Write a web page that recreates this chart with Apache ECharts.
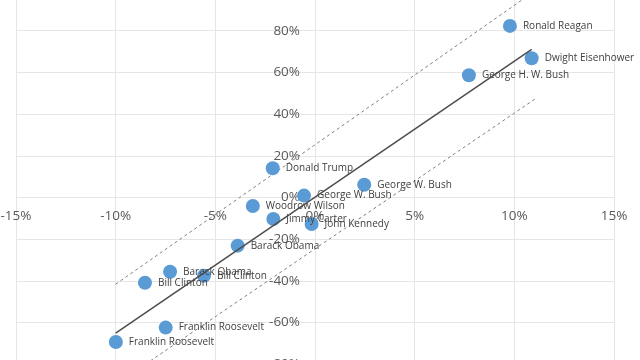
<!DOCTYPE html>
<html><head><meta charset="utf-8">
<script src="https://cdn.jsdelivr.net/npm/echarts@6/dist/echarts.min.js"></script>
<style>html,body{margin:0;padding:0;background:#fff}#c{width:640px;height:360px}</style>
</head><body><div id="c"></div>
<script>
const names = ["Ronald Reagan","Dwight Eisenhower","George H. W. Bush","Donald Trump","George W. Bush","George W. Bush","Woodrow Wilson","Jimmy Carter","John Kennedy","Barack Obama","Barack Obama","Bill Clinton","Bill Clinton","Franklin Roosevelt","Franklin Roosevelt"];
const xVals = [0.0978, 0.1087, 0.0772, -0.0212, 0.0247, -0.0055, -0.0312, -0.0209, -0.0017, -0.0388, -0.0727, -0.0557, -0.0853, -0.0749, -0.0999];
const yVals = [0.823, 0.668, 0.586, 0.140, 0.061, 0.009, -0.041, -0.103, -0.127, -0.231, -0.356, -0.375, -0.409, -0.624, -0.693];
const trendX = [-0.10, 0.1087];
const trendY = [-0.651, 0.711];
const upperX = [-0.10, 0.1087];
const upperY = [-0.416, 0.98];
const lowerX = [-0.10, 0.1103];
const lowerY = [-0.897, 0.472];

const pct = v => Math.round(v * 100) + '%';
const pts = xVals.map((x, i) => ({ value: [x, yVals[i]], name: names[i] }));
const pair = (xs, ys) => xs.map((x, i) => [x, ys[i]]);

// grid geometry: x from 16 to 614 px, y from -11 to 406 px; axes cross at value 0
const G = { left: 16, right: 26, top: -11, bottom: -46 };
const W = 640 - G.left - G.right, H = 360 - G.top - G.bottom;
const xZeroOffset = -(H * 0.5);   // move x axis from bottom to y = 0
const yZeroOffset = -(W * 0.5);   // move y axis from left to x = 0

const chart = echarts.init(document.getElementById('c'), null, { renderer: 'canvas' });
chart.setOption({
  animation: false,
  backgroundColor: '#ffffff',
  textStyle: { fontFamily: 'Open Sans' },
  grid: { left: G.left, right: G.right, top: G.top, bottom: G.bottom, containLabel: false, outerBoundsMode: 'none' },
  xAxis: {
    type: 'value', min: -0.15, max: 0.15, interval: 0.05, position: 'bottom', offset: xZeroOffset,
    axisLine: { show: false, onZero: false },
    axisTick: { show: false },
    splitLine: { show: true, lineStyle: { color: '#e6e6e6', width: 1 } },
    axisLabel: { formatter: pct, color: '#595959', fontSize: 13.5, margin: 12, showMinLabel: true, showMaxLabel: true, fontFamily: 'Open Sans' }
  },
  yAxis: {
    type: 'value', min: -1, max: 1, interval: 0.2, position: 'left', offset: yZeroOffset,
    axisLine: { show: false, onZero: false },
    axisTick: { show: false },
    splitLine: { show: true, lineStyle: { color: '#e6e6e6', width: 1 } },
    axisLabel: { formatter: pct, color: '#595959', fontSize: 13.5, margin: 15, showMinLabel: true, showMaxLabel: true, fontFamily: 'Open Sans' }
  },
  series: [
    {
      type: 'line', data: pair(upperX, upperY), symbol: 'none', z: 3,
      lineStyle: { color: '#808080', width: 1, type: [3, 3] }
    },
    {
      type: 'line', data: pair(lowerX, lowerY), symbol: 'none', z: 3,
      lineStyle: { color: '#808080', width: 1, type: [3, 3] }
    },
    {
      type: 'scatter', data: pts, symbolSize: 14, z: 4,
      itemStyle: { color: '#5b9bd5', opacity: 1 },
      label: {
        show: true, position: 'right', distance: 6,
        formatter: p => p.name, color: '#404040', fontSize: 10, fontFamily: 'Open Sans'
      }
    },
    {
      type: 'line', data: pair(trendX, trendY), symbol: 'none', z: 5,
      lineStyle: { color: '#4d4d4d', width: 1.5 }
    }
  ]
});
</script>
</body></html>
